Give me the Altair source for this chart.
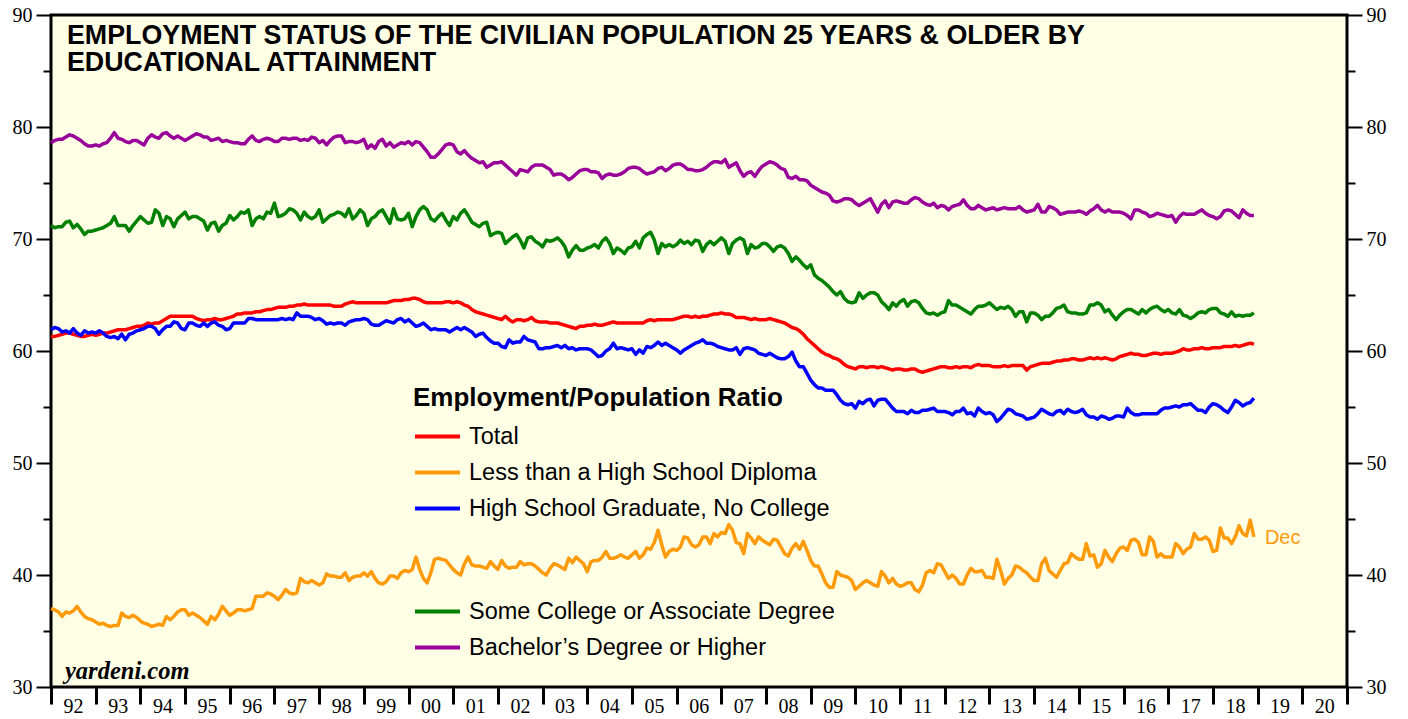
import altair as alt
import pandas as pd

START_YEAR = 1992

series_names = [
    "Total",
    "Less than a High School Diploma",
    "High School Graduate, No College",
    "Some College or Associate Degree",
    "Bachelor\u2019s Degree or Higher",
]
series_colors = ["#FF0000", "#FF9A0A", "#0000FF", "#008000", "#990099"]

# monthly values, one row per year 1992..2018
total = [
    [61.3, 61.3, 61.4, 61.5, 61.6, 61.6, 61.5, 61.4, 61.3, 61.3, 61.4, 61.5],
    [61.4, 61.5, 61.6, 61.6, 61.7, 61.8, 61.9, 61.9, 61.9, 62.0, 62.1, 62.2],
    [62.2, 62.3, 62.5, 62.4, 62.5, 62.5, 62.7, 62.9, 63.1, 63.1, 63.1, 63.1],
    [63.1, 63.1, 63.1, 62.9, 62.8, 62.7, 62.8, 62.8, 62.9, 62.8, 62.8, 62.9],
    [63.0, 63.1, 63.3, 63.3, 63.4, 63.4, 63.4, 63.5, 63.5, 63.6, 63.7, 63.7],
    [63.8, 63.9, 63.9, 63.9, 64.0, 64.0, 64.1, 64.1, 64.2, 64.1, 64.1, 64.1],
    [64.1, 64.1, 64.1, 64.1, 64.0, 64.0, 64.0, 64.2, 64.3, 64.4, 64.3, 64.3],
    [64.3, 64.3, 64.3, 64.3, 64.3, 64.3, 64.3, 64.4, 64.5, 64.5, 64.5, 64.6],
    [64.6, 64.7, 64.7, 64.6, 64.4, 64.3, 64.3, 64.3, 64.3, 64.3, 64.4, 64.4],
    [64.3, 64.4, 64.3, 64.1, 64.0, 63.7, 63.5, 63.4, 63.3, 63.2, 63.1, 63.0],
    [62.9, 62.8, 63.1, 62.8, 62.6, 62.8, 62.8, 62.7, 62.8, 63.0, 62.7, 62.6],
    [62.6, 62.6, 62.5, 62.5, 62.5, 62.4, 62.3, 62.2, 62.1, 62.0, 62.2, 62.2],
    [62.3, 62.3, 62.4, 62.3, 62.3, 62.4, 62.5, 62.6, 62.5, 62.5, 62.5, 62.5],
    [62.5, 62.5, 62.5, 62.5, 62.7, 62.8, 62.7, 62.8, 62.8, 62.8, 62.8, 62.8],
    [62.9, 63.0, 63.1, 63.1, 63.0, 63.1, 63.0, 63.1, 63.1, 63.2, 63.3, 63.3],
    [63.4, 63.3, 63.3, 63.2, 63.0, 63.0, 63.0, 62.9, 62.8, 62.9, 62.8, 62.8],
    [62.8, 62.9, 62.8, 62.7, 62.6, 62.5, 62.3, 62.1, 62.0, 61.8, 61.5, 61.1],
    [60.8, 60.5, 60.2, 59.9, 59.7, 59.6, 59.4, 59.3, 59.1, 58.8, 58.6, 58.5],
    [58.4, 58.6, 58.6, 58.5, 58.6, 58.6, 58.5, 58.6, 58.5, 58.4, 58.3, 58.4],
    [58.4, 58.3, 58.3, 58.4, 58.4, 58.2, 58.1, 58.2, 58.3, 58.4, 58.5, 58.6],
    [58.6, 58.5, 58.5, 58.6, 58.5, 58.6, 58.6, 58.5, 58.7, 58.8, 58.7, 58.7],
    [58.7, 58.6, 58.6, 58.6, 58.7, 58.6, 58.7, 58.7, 58.7, 58.7, 58.3, 58.6],
    [58.7, 58.8, 58.9, 58.9, 58.9, 59.0, 59.1, 59.1, 59.2, 59.2, 59.3, 59.3],
    [59.2, 59.2, 59.3, 59.4, 59.3, 59.4, 59.3, 59.4, 59.3, 59.2, 59.3, 59.5],
    [59.6, 59.7, 59.8, 59.7, 59.7, 59.6, 59.6, 59.7, 59.8, 59.8, 59.7, 59.8],
    [59.8, 59.8, 59.9, 60.0, 60.2, 60.1, 60.1, 60.2, 60.2, 60.3, 60.2, 60.2],
    [60.3, 60.3, 60.3, 60.4, 60.4, 60.4, 60.5, 60.4, 60.5, 60.6, 60.7, 60.6],
]

less_than_hs = [
    [37.0, 36.9, 36.7, 36.3, 36.7, 36.6, 36.8, 37.2, 36.7, 36.3, 36.1, 36.0],
    [35.8, 35.6, 35.7, 35.5, 35.4, 35.5, 35.5, 36.6, 36.3, 36.2, 36.4, 36.2],
    [35.9, 35.7, 35.6, 35.4, 35.5, 35.6, 35.5, 36.3, 36.0, 36.3, 36.7, 36.9],
    [36.9, 36.4, 36.6, 36.4, 36.2, 35.9, 35.6, 36.3, 36.0, 36.5, 37.2, 36.8],
    [36.4, 36.6, 36.9, 36.9, 36.8, 36.9, 37.0, 38.1, 38.1, 38.1, 38.4, 38.3],
    [38.1, 37.8, 38.2, 38.7, 38.4, 38.3, 38.4, 39.7, 39.4, 39.3, 39.5, 39.3],
    [39.1, 39.3, 40.1, 39.9, 39.9, 39.8, 39.8, 40.2, 39.5, 39.8, 39.9, 39.9],
    [40.2, 39.9, 40.3, 39.7, 39.3, 39.2, 39.4, 39.9, 39.9, 39.7, 40.2, 40.4],
    [40.3, 40.5, 41.6, 40.5, 39.7, 39.3, 40.2, 41.4, 41.5, 41.4, 41.3, 40.9],
    [40.5, 40.2, 40.0, 41.0, 41.6, 40.9, 40.8, 40.8, 40.7, 40.6, 41.2, 40.8],
    [40.5, 41.3, 40.8, 40.6, 40.7, 40.7, 41.2, 40.9, 41.0, 41.0, 40.8, 40.5],
    [40.2, 40.0, 40.6, 41.0, 40.9, 40.7, 40.5, 41.5, 41.1, 41.6, 41.3, 41.0],
    [40.3, 41.2, 41.3, 41.3, 41.6, 42.1, 41.5, 41.5, 41.6, 41.8, 41.6, 41.5],
    [41.8, 42.1, 41.5, 41.8, 42.4, 42.3, 42.9, 44.0, 42.7, 41.6, 42.1, 42.3],
    [42.2, 42.5, 43.4, 43.3, 42.7, 42.5, 42.7, 43.4, 43.4, 42.8, 43.7, 43.4],
    [43.8, 43.7, 44.5, 44.0, 42.9, 42.8, 41.9, 43.7, 43.3, 42.8, 43.4, 43.1],
    [42.9, 42.7, 43.2, 43.1, 42.5, 41.9, 41.7, 42.4, 42.8, 42.3, 43.0, 42.2],
    [41.3, 40.8, 40.8, 40.1, 39.3, 38.9, 38.9, 40.3, 40.0, 39.9, 39.8, 39.5],
    [38.7, 39.0, 39.3, 39.5, 39.3, 39.1, 39.0, 40.3, 39.9, 39.3, 39.7, 39.2],
    [39.0, 39.1, 39.3, 39.3, 38.7, 38.5, 39.1, 40.2, 40.4, 40.2, 41.0, 40.9],
    [40.3, 39.7, 40.0, 39.7, 39.2, 39.2, 40.0, 40.6, 40.3, 40.3, 40.4, 39.8],
    [39.8, 39.7, 41.4, 40.4, 39.2, 39.7, 40.0, 40.8, 40.7, 40.4, 40.2, 39.8],
    [39.5, 39.5, 41.0, 41.5, 40.4, 40.1, 39.8, 40.4, 41.0, 41.1, 41.9, 41.6],
    [41.4, 41.4, 42.8, 41.7, 41.8, 40.7, 41.0, 42.2, 41.6, 41.2, 41.9, 42.4],
    [42.5, 42.2, 43.1, 43.2, 42.9, 41.8, 41.8, 43.4, 43.0, 41.6, 41.9, 41.6],
    [41.6, 41.6, 42.8, 42.5, 41.9, 42.3, 42.5, 43.7, 43.2, 43.2, 43.4, 43.1],
    [42.1, 42.2, 44.2, 43.3, 43.3, 42.8, 43.4, 44.4, 43.7, 43.5, 44.9, 43.4],
]

hs_graduate = [
    [61.9, 62.1, 62.0, 61.7, 61.8, 61.6, 62.0, 61.6, 61.4, 61.8, 61.6, 61.7],
    [61.6, 61.8, 61.6, 61.3, 61.2, 61.3, 61.1, 61.5, 61.0, 61.5, 61.6, 61.8],
    [61.9, 62.0, 62.2, 62.2, 62.0, 61.5, 61.9, 62.2, 62.2, 62.6, 62.5, 62.0],
    [61.9, 62.5, 62.5, 62.3, 62.2, 62.5, 62.2, 62.5, 62.6, 62.3, 62.2, 61.9],
    [62.0, 62.5, 62.5, 62.5, 62.5, 62.9, 62.9, 62.8, 62.8, 62.8, 62.8, 62.8],
    [62.8, 62.8, 62.9, 62.8, 62.9, 62.8, 63.4, 63.1, 63.1, 63.1, 63.0, 62.8],
    [62.9, 62.7, 62.4, 62.5, 62.4, 62.5, 62.5, 62.3, 62.6, 62.7, 62.8, 62.8],
    [62.9, 62.8, 62.4, 62.3, 62.3, 62.5, 62.7, 62.6, 62.5, 62.8, 62.9, 62.6],
    [62.8, 62.5, 62.2, 62.3, 62.5, 62.2, 61.9, 62.0, 61.9, 61.9, 61.9, 61.7],
    [61.9, 62.1, 61.9, 62.1, 61.9, 61.7, 61.3, 61.5, 61.6, 61.2, 60.9, 60.7],
    [60.7, 60.4, 60.3, 61.0, 60.7, 60.8, 60.8, 61.3, 61.0, 60.9, 60.8, 60.2],
    [60.2, 60.3, 60.3, 60.4, 60.5, 60.3, 60.5, 60.2, 60.3, 60.1, 60.2, 60.2],
    [60.2, 60.1, 59.8, 59.5, 59.6, 60.0, 60.2, 60.7, 60.2, 60.3, 60.2, 60.1],
    [60.2, 59.7, 60.1, 59.8, 60.4, 60.3, 60.5, 60.8, 60.5, 60.7, 60.5, 60.3],
    [60.1, 59.8, 60.1, 60.3, 60.5, 60.7, 60.8, 61.0, 60.7, 60.7, 60.6, 60.4],
    [60.3, 60.2, 60.1, 60.1, 60.3, 59.7, 60.2, 60.3, 60.2, 60.1, 59.8, 59.7],
    [59.6, 59.8, 59.6, 59.4, 59.3, 59.3, 59.5, 59.9, 59.1, 58.6, 58.6, 58.0],
    [57.4, 57.0, 56.7, 56.7, 56.5, 56.5, 56.5, 56.1, 55.6, 55.3, 55.2, 55.3],
    [54.9, 55.5, 55.3, 55.6, 55.7, 55.1, 55.6, 55.7, 55.7, 55.3, 54.9, 54.6],
    [54.6, 54.6, 54.4, 54.7, 54.5, 54.5, 54.7, 54.7, 54.8, 54.9, 54.6, 54.6],
    [54.6, 54.5, 54.3, 54.6, 54.6, 54.9, 54.4, 54.5, 54.2, 54.9, 54.6, 54.4],
    [54.5, 54.3, 53.7, 54.0, 54.4, 54.8, 54.7, 54.4, 54.3, 54.2, 53.9, 54.0],
    [54.1, 54.4, 54.8, 54.6, 54.4, 54.3, 54.6, 54.7, 54.4, 54.8, 54.6, 54.5],
    [54.6, 54.8, 54.3, 54.1, 54.1, 53.9, 54.2, 54.1, 53.9, 54.0, 54.2, 54.2],
    [54.1, 54.9, 54.5, 54.3, 54.3, 54.4, 54.4, 54.4, 54.4, 54.4, 54.7, 54.9],
    [54.9, 55.0, 55.1, 55.0, 55.2, 55.2, 55.3, 55.0, 54.7, 54.7, 54.5, 55.0],
    [55.3, 55.2, 55.0, 54.7, 54.5, 55.0, 55.6, 55.4, 55.1, 55.3, 55.4, 55.8],
]

some_college = [
    [71.2, 71.0, 71.1, 71.1, 71.5, 71.6, 71.0, 71.3, 70.9, 70.4, 70.7, 70.7],
    [70.8, 70.9, 71.0, 71.2, 71.4, 72.0, 71.2, 71.2, 71.2, 70.7, 71.2, 71.6],
    [72.0, 71.7, 71.4, 71.5, 72.6, 72.3, 71.2, 72.0, 71.8, 71.1, 71.8, 72.1],
    [72.4, 71.8, 72.0, 72.0, 71.8, 71.6, 70.8, 71.4, 71.5, 70.7, 71.2, 71.4],
    [72.1, 71.7, 72.0, 72.4, 72.3, 72.6, 71.2, 71.8, 72.0, 71.8, 72.4, 72.3],
    [73.2, 72.0, 72.1, 72.3, 72.7, 72.6, 72.3, 71.7, 72.4, 72.0, 71.8, 72.0],
    [72.6, 71.5, 71.8, 72.1, 72.2, 72.4, 72.3, 72.0, 72.7, 71.8, 72.1, 72.6],
    [72.3, 71.2, 71.8, 72.0, 72.4, 72.6, 72.0, 71.4, 72.7, 71.8, 71.7, 71.8],
    [72.3, 71.1, 72.0, 72.6, 72.9, 72.6, 71.8, 71.6, 72.0, 72.3, 71.7, 71.2],
    [72.0, 71.7, 72.3, 72.6, 72.1, 71.5, 71.3, 71.1, 71.4, 71.5, 70.3, 70.5],
    [70.6, 70.5, 69.6, 69.9, 70.2, 70.4, 69.9, 69.2, 70.1, 70.2, 69.8, 69.6],
    [69.3, 69.9, 69.8, 69.9, 70.1, 69.8, 69.3, 68.4, 69.0, 69.4, 69.0, 69.0],
    [69.2, 69.3, 69.5, 69.2, 69.8, 70.1, 69.6, 68.7, 69.2, 69.0, 68.7, 69.2],
    [69.3, 69.8, 69.2, 70.1, 70.4, 70.6, 69.9, 68.7, 69.6, 69.3, 69.5, 69.3],
    [69.5, 69.9, 69.6, 69.8, 69.5, 69.9, 69.8, 68.9, 69.5, 69.8, 69.5, 69.8],
    [70.1, 69.8, 68.7, 69.6, 69.9, 70.1, 69.9, 68.7, 69.5, 69.2, 69.3, 69.6],
    [69.6, 69.3, 68.9, 69.3, 69.4, 69.2, 68.7, 68.0, 68.4, 68.1, 67.7, 67.4],
    [67.7, 66.8, 66.5, 66.3, 66.0, 65.7, 65.3, 65.0, 65.3, 64.7, 64.4, 64.3],
    [64.4, 65.2, 64.7, 65.0, 65.2, 65.2, 65.0, 64.4, 64.1, 63.7, 64.3, 64.0],
    [64.4, 64.6, 64.0, 64.4, 64.5, 64.3, 63.8, 63.4, 63.3, 63.4, 63.2, 63.4],
    [63.5, 64.5, 64.1, 64.1, 63.9, 63.7, 63.5, 63.3, 63.7, 64.0, 64.0, 64.1],
    [64.3, 64.0, 63.7, 63.9, 63.8, 64.0, 63.7, 63.1, 63.5, 63.5, 62.6, 63.4],
    [63.4, 63.2, 62.8, 63.1, 63.1, 63.4, 63.8, 63.9, 64.1, 63.5, 63.4, 63.4],
    [63.3, 63.3, 63.4, 64.1, 64.1, 64.3, 64.1, 63.5, 63.7, 63.2, 62.8, 63.2],
    [63.5, 63.7, 63.7, 63.5, 63.3, 63.7, 63.4, 63.7, 63.9, 64.0, 63.7, 63.5],
    [63.7, 63.4, 63.3, 63.7, 63.2, 63.1, 62.9, 63.1, 63.4, 63.5, 63.4, 63.7],
    [63.8, 63.8, 63.4, 63.3, 63.1, 63.5, 63.1, 63.2, 63.1, 63.2, 63.2, 63.4],
]

bachelors = [
    [78.6, 78.8, 78.9, 78.9, 79.1, 79.3, 79.2, 79.0, 78.8, 78.5, 78.3, 78.3],
    [78.4, 78.3, 78.5, 78.6, 79.0, 79.5, 79.0, 78.9, 78.7, 78.6, 78.8, 78.8],
    [78.6, 78.4, 79.0, 79.3, 79.1, 79.0, 79.4, 79.5, 79.2, 79.0, 79.2, 79.0],
    [78.8, 79.0, 79.2, 79.4, 79.3, 79.1, 79.1, 78.8, 78.9, 79.0, 78.7, 78.8],
    [78.7, 78.6, 78.6, 78.5, 78.5, 78.9, 79.2, 78.8, 78.7, 78.9, 79.0, 78.9],
    [78.7, 78.7, 79.0, 79.0, 78.9, 79.0, 79.0, 78.8, 78.9, 78.8, 79.1, 79.0],
    [78.6, 78.8, 78.4, 78.8, 79.1, 79.2, 79.2, 78.6, 78.7, 78.7, 78.6, 78.7],
    [78.9, 78.1, 78.4, 78.1, 78.7, 78.9, 78.3, 78.6, 78.2, 78.4, 78.6, 78.5],
    [78.7, 78.4, 78.7, 78.6, 78.2, 77.8, 77.3, 77.3, 77.6, 78.0, 78.4, 78.5],
    [78.4, 77.8, 77.6, 77.9, 77.5, 77.2, 77.0, 76.8, 76.9, 76.4, 76.6, 76.8],
    [76.8, 76.9, 76.6, 76.3, 76.0, 75.7, 76.2, 76.1, 76.0, 76.4, 76.6, 76.6],
    [76.6, 76.4, 76.2, 75.7, 75.8, 75.8, 75.6, 75.3, 75.5, 75.8, 76.1, 76.2],
    [76.2, 76.0, 76.0, 75.9, 75.4, 75.7, 75.8, 75.7, 75.7, 75.8, 76.0, 76.3],
    [76.4, 76.4, 76.3, 76.0, 75.8, 75.9, 76.0, 76.3, 76.4, 76.1, 76.3, 76.6],
    [76.7, 76.7, 76.5, 76.2, 76.2, 76.1, 76.1, 76.2, 76.4, 76.7, 76.9, 76.9],
    [76.8, 77.1, 76.4, 76.6, 76.8, 76.1, 75.6, 75.9, 76.0, 75.6, 76.1, 76.5],
    [76.7, 76.9, 76.8, 76.6, 76.3, 76.2, 75.5, 75.4, 75.6, 75.3, 75.3, 75.2],
    [74.8, 74.6, 74.4, 74.2, 74.1, 73.9, 73.4, 73.3, 73.4, 73.6, 73.6, 73.5],
    [73.2, 73.0, 73.2, 73.4, 73.6, 73.0, 72.4, 73.1, 73.4, 72.8, 73.3, 73.4],
    [73.3, 73.2, 73.2, 73.5, 73.7, 73.6, 73.3, 73.1, 73.0, 73.2, 72.8, 73.0],
    [72.9, 72.6, 72.9, 73.0, 73.1, 73.5, 73.0, 72.7, 72.7, 73.0, 72.8, 72.6],
    [72.7, 72.8, 72.6, 72.7, 72.8, 72.7, 72.7, 72.7, 72.9, 72.6, 72.4, 72.5],
    [72.6, 73.1, 72.4, 72.4, 72.9, 72.8, 72.6, 72.2, 72.3, 72.4, 72.4, 72.4],
    [72.5, 72.4, 72.2, 72.5, 72.7, 73.0, 72.6, 72.4, 72.6, 72.4, 72.4, 72.4],
    [72.3, 72.1, 71.8, 72.6, 72.6, 72.4, 72.3, 72.0, 72.1, 72.3, 72.2, 72.1],
    [72.0, 72.1, 71.5, 72.0, 72.3, 72.2, 72.2, 72.2, 72.4, 72.6, 72.3, 72.1],
    [72.0, 71.8, 72.0, 72.5, 72.6, 72.5, 72.2, 71.9, 72.6, 72.3, 72.1, 72.1],
]

year_ticks = list(range(1992, 2022))
y_ticks = list(range(30, 91, 5))

rows = []
for name, table in zip(series_names, [total, less_than_hs, hs_graduate, some_college, bachelors]):
    for yi, year_vals in enumerate(table):
        for m, v in enumerate(year_vals):
            rows.append({"t": START_YEAR + yi + m / 12.0, "value": v, "series": name})
df = pd.DataFrame(rows)

df_a = df[df["series"].isin(series_names[:3])]
df_b = df[df["series"].isin(series_names[3:])]
last_orange = df[df["series"] == series_names[1]].tail(1).assign(label="Dec")

SANS = "Liberation Sans"
SERIF = "Liberation Serif"

x_enc = alt.X(
    "t:Q",
    scale=alt.Scale(domain=[1992, 2021], nice=False, zero=False),
    axis=alt.Axis(
        values=year_ticks,
        labelExpr="datum.value >= 2021 ? '' : substring(toString(datum.value), 2, 4)",
        labelOffset=22,
        labelAlign="center",
        labelBaseline="top",
        labelPadding=-8,
        labelFont=SERIF,
        labelFontSize=20,
        labelColor="black",
        labelFlush=False,
        labelOverlap=False,
        tickSize=17,
        tickWidth=3,
        tickColor="black",
        domain=False,
        grid=False,
        title=None,
    ),
)

def y_enc(orient):
    return alt.Y(
        "value:Q",
        scale=alt.Scale(domain=[30, 90], nice=False, zero=False),
        axis=alt.Axis(
            orient=orient,
            values=y_ticks,
            labelExpr="datum.value % 10 == 0 ? datum.label : ''",
            tickSize=alt.condition("datum.value % 10 == 0", alt.value(15), alt.value(8)),
            tickWidth=2,
            tickColor="black",
            labelPadding=4,
            labelFont=SERIF,
            labelFontSize=20,
            labelColor="black",
            labelFlush=False,
            labelOverlap=False,
            domain=False,
            grid=False,
            title=None,
        ),
    )

y_left = y_enc("left")

legend_common = dict(
    orient="none",
    symbolType="stroke",
    symbolSize=2025,
    symbolStrokeWidth=4,
    labelFont=SANS,
    labelFontSize=23.5,
    labelColor="black",
    labelOffset=7,
    labelLimit=0,
    padding=0,
    legendX=362,
)

lines_a = alt.Chart(df_a).mark_line(strokeWidth=3.5, strokeJoin="round").encode(
    x=x_enc,
    y=y_left,
    color=alt.Color(
        "series:N",
        scale=alt.Scale(domain=series_names[:3], range=series_colors[:3]),
        legend=alt.Legend(
            title="Employment/Population Ratio",
            titleFont=SANS,
            titleFontSize=26,
            titleFontWeight="bold",
            titleColor="black",
            titleLimit=0,
            titlePadding=1,
            rowPadding=-13,
            legendY=370,
            **legend_common,
        ),
    ),
    detail="series:N",
)

lines_b = alt.Chart(df_b).mark_line(strokeWidth=3.5, strokeJoin="round").encode(
    x=x_enc,
    y=y_left,
    color=alt.Color(
        "series:N",
        scale=alt.Scale(domain=series_names[3:], range=series_colors[3:]),
        legend=alt.Legend(
            title=None,
            rowPadding=-6,
            legendY=572,
            **legend_common,
        ),
    ),
)

dec_label = alt.Chart(last_orange).mark_text(
    align="left", baseline="middle", dx=11, dy=1, font=SANS, fontSize=20, color=series_colors[1]
).encode(x=x_enc, y=y_left, text="label:N")

title_lines = ["EMPLOYMENT STATUS OF THE CIVILIAN POPULATION 25 YEARS & OLDER BY",
               "EDUCATIONAL ATTAINMENT"]
title1 = alt.Chart(pd.DataFrame({"txt": [title_lines[0]]})).mark_text(
    align="left", baseline="alphabetic", font=SANS, fontSize=26.8, fontWeight="bold", color="black"
).encode(x=alt.value(16), y=alt.value(28.5), text="txt:N")
title2 = alt.Chart(pd.DataFrame({"txt": [title_lines[1]]})).mark_text(
    align="left", baseline="alphabetic", font=SANS, fontSize=26.8, fontWeight="bold", color="black"
).encode(x=alt.value(16), y=alt.value(56), text="txt:N")

source = alt.Chart(pd.DataFrame({"txt": ["yardeni.com"]})).mark_text(
    align="left", baseline="alphabetic", font=SERIF, fontSize=24.5, fontWeight="bold",
    fontStyle="italic", color="black"
).encode(x=alt.value(14), y=alt.value(664), text="txt:N")

left_group = alt.layer(lines_a, lines_b, dec_label, title1, title2, source).resolve_scale(
    color="independent"
)

right_axis = alt.Chart(df_a).mark_line(opacity=0).encode(
    x=x_enc, y=y_enc("right"), detail="series:N"
)

chart = (
    alt.layer(left_group, right_axis)
    .resolve_axis(y="independent")
    .properties(
        width=1296,
        height=672,
        autosize=alt.AutoSizeParams(type="none"),
        padding={"left": 43, "top": 7, "right": 53, "bottom": 32},
        background="white",
    )
    .configure_view(stroke="black", strokeWidth=3, fill="#FFFFE6")
)

chart.save("out.html", embed_options={"renderer": "svg", "actions": False})
